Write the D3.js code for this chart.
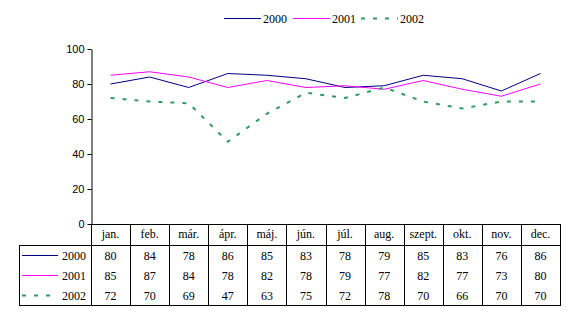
<!DOCTYPE html>
<html>
<head>
<meta charset="utf-8">
<script src="https://cdn.jsdelivr.net/npm/d3@7/dist/d3.min.js"></script>
<style>
  html, body { margin: 0; padding: 0; background: #fff; }
  svg { display: block; }
</style>
</head>
<body>
<svg id="chart" width="576" height="324"></svg>
<script>
// Monthly values per year, shown both as lines and in the data table
const months = ["jan.", "feb.", "már.", "ápr.", "máj.", "jún.", "júl.", "aug.", "szept.", "okt.", "nov.", "dec."];
const years = ["2000", "2001", "2002"];
const values2000 = [80, 84, 78, 86, 85, 83, 78, 79, 85, 83, 76, 86];
const values2001 = [85, 87, 84, 78, 82, 78, 79, 77, 82, 77, 73, 80];
const values2002 = [72, 70, 69, 47, 63, 75, 72, 78, 70, 66, 70, 70];
const yTicks = [0, 20, 40, 60, 80, 100];

const series = [
  { name: years[0], values: values2000, color: "#000080", width: 1, dash: null },
  { name: years[1], values: values2001, color: "#FF00FF", width: 1, dash: null },
  { name: years[2], values: values2002, color: "#339966", width: 2, dash: "4,8" }
];

const svg = d3.select("#chart");
const serif = "'Liberation Serif', 'Times New Roman', serif";
const sans = "'Liberation Sans', Arial, sans-serif";

const plotLeft = 91, plotRight = 560, plotTop = 49, plotBottom = 224;

const x = d3.scaleBand().domain(months).range([plotLeft, plotRight]);
const y = d3.scaleLinear().domain([0, 100]).range([plotBottom, plotTop]);

// Y axis
const yAxis = d3.axisLeft(y).tickValues(yTicks).tickSize(4).tickPadding(3).tickSizeOuter(0);
const gy = svg.append("g").attr("transform", `translate(${plotLeft + 0.5},0)`).call(yAxis);
gy.select(".domain").attr("stroke", "#000");
gy.selectAll(".tick line").attr("stroke", "#000");
gy.selectAll(".tick text").attr("font-family", sans).attr("font-size", 11).attr("fill", "#000");

// Lines
const line = d3.line()
  .x((d, i) => x(months[i]) + x.bandwidth() / 2)
  .y(d => y(d));

series.forEach(s => {
  svg.append("path")
    .datum(s.values)
    .attr("d", line)
    .attr("fill", "none")
    .attr("stroke", s.color)
    .attr("stroke-width", s.width)
    .attr("stroke-dasharray", s.dash);
});

// Data table below the plot
const rowH = 20;
const headerTop = plotBottom, headerBottom = 245;
const tableBottom = headerBottom + rowH * 3;
const keyLeft = 19;
const table = svg.append("g").attr("stroke", "#000").attr("stroke-width", 1);

// horizontal rules
table.append("line").attr("x1", plotLeft).attr("x2", plotRight)
  .attr("y1", headerTop + 0.5).attr("y2", headerTop + 0.5);
table.append("line").attr("x1", keyLeft).attr("x2", plotRight)
  .attr("y1", headerBottom + 0.5).attr("y2", headerBottom + 0.5);
table.append("line").attr("x1", keyLeft).attr("x2", plotRight)
  .attr("y1", tableBottom + 0.5).attr("y2", tableBottom + 0.5);

// vertical rules
const colEdges = months.map(m => Math.round(x(m))).concat([plotRight]);
colEdges.forEach(cx => {
  table.append("line").attr("x1", cx + 0.5).attr("x2", cx + 0.5)
    .attr("y1", headerTop).attr("y2", tableBottom + 1);
});
table.append("line").attr("x1", keyLeft + 0.5).attr("x2", keyLeft + 0.5)
  .attr("y1", headerBottom).attr("y2", tableBottom + 1);

// month headers
svg.append("g").selectAll("text").data(months).join("text")
  .attr("x", d => x(d) + x.bandwidth() / 2)
  .attr("y", headerTop + 14)
  .attr("text-anchor", "middle")
  .attr("font-family", serif).attr("font-size", 12).attr("fill", "#000")
  .text(d => d);

// table rows: legend key + values
series.forEach((s, r) => {
  const cy = headerBottom + rowH * r + rowH / 2;
  svg.append("line")
    .attr("x1", 22).attr("x2", 58)
    .attr("y1", cy + 0.5).attr("y2", cy + 0.5)
    .attr("stroke", s.color).attr("stroke-width", s.width)
    .attr("stroke-dasharray", s.dash);
  svg.append("text")
    .attr("x", 86).attr("y", cy + 4.5)
    .attr("text-anchor", "end")
    .attr("font-family", serif).attr("font-size", 12).attr("fill", "#000")
    .text(s.name);
  svg.append("g").selectAll("text").data(s.values).join("text")
    .attr("x", (d, i) => x(months[i]) + x.bandwidth() / 2)
    .attr("y", cy + 4.5)
    .attr("text-anchor", "middle")
    .attr("font-family", serif).attr("font-size", 12).attr("fill", "#000")
    .text(d => d);
});

// Legend at top
const legendItems = [
  { s: series[0], x0: 224 },
  { s: series[1], x0: 293 },
  { s: series[2], x0: 361 }
];
const legendY = 18;
legendItems.forEach(it => {
  svg.append("line")
    .attr("x1", it.x0).attr("x2", it.x0 + 37)
    .attr("y1", legendY + 0.5).attr("y2", legendY + 0.5)
    .attr("stroke", it.s.color).attr("stroke-width", it.s.width)
    .attr("stroke-dasharray", it.s.dash);
  svg.append("text")
    .attr("x", it.x0 + 39).attr("y", legendY + 4.5)
    .attr("font-family", serif).attr("font-size", 12).attr("fill", "#000")
    .text(it.s.name);
});
</script>
</body>
</html>
